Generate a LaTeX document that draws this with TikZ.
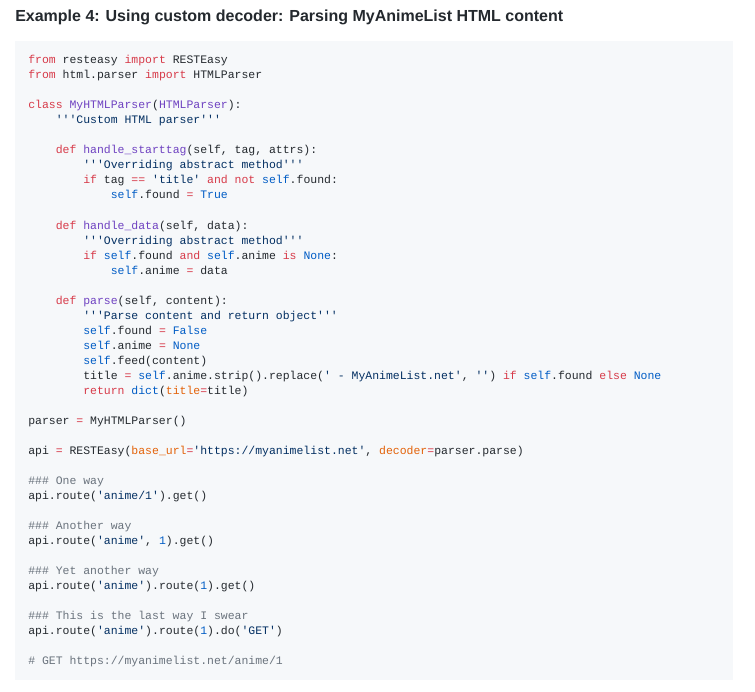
\documentclass[tikz,border=0pt]{standalone}
\usepackage{fontspec}
\setmainfont{Liberation Sans}
\newfontfamily\codefont{Liberation Mono}
\definecolor{ckc}{HTML}{D73A49}
\definecolor{cfc}{HTML}{6F42C1}
\definecolor{csc}{HTML}{032F62}
\definecolor{ccc}{HTML}{005CC5}
\definecolor{cmc}{HTML}{6A737D}
\definecolor{cpc}{HTML}{E36209}
\definecolor{txt}{HTML}{24292E}
\definecolor{bgc}{HTML}{F6F8FA}
\newcommand\ck[1]{\textcolor{ckc}{#1}}
\newcommand\cf[1]{\textcolor{cfc}{#1}}
\newcommand\cs[1]{\textcolor{csc}{#1}}
\newcommand\cc[1]{\textcolor{ccc}{#1}}
\newcommand\cm[1]{\textcolor{cmc}{#1}}
\newcommand\cp[1]{\textcolor{cpc}{#1}}
\begin{document}
\begin{tikzpicture}[x=0.75pt,y=-0.75pt,
  code/.style={anchor=base west,inner sep=0pt,font=\codefont\fontsize{8.6pt}{10pt}\selectfont,text=txt}]
\useasboundingbox (0,0) rectangle (755,691);
\fill[white] (0,0) rectangle (755,691);
\node[anchor=base west,inner sep=0pt,font=\bfseries\fontsize{12pt}{14pt}\selectfont,text=txt] (title) at (15,22) {Example 4: Using custom decoder: Parsing MyAnimeList HTML content};
\fill[bgc] (15,41) rectangle (733,680);
\def\ln#1#2#3{\node[code] (l#1) at ({28+#2*6.88},{64+#1*15}) {#3};}
\ln{0}{0}{\ck{from} resteasy \ck{import} RESTEasy}
\ln{1}{0}{\ck{from} html.parser \ck{import} HTMLParser}
\ln{3}{0}{\ck{class} \cf{MyHTMLParser}(\cf{HTMLParser}):}
\ln{4}{4}{\cs{'''Custom HTML parser'''}}
\ln{6}{4}{\ck{def} \cf{handle\_starttag}(self, tag, attrs):}
\ln{7}{8}{\cs{'''Overriding abstract method'''}}
\ln{8}{8}{\ck{if} tag \ck{==} \cs{'title'} \ck{and} \ck{not} \cc{self}.found:}
\ln{9}{12}{\cc{self}.found \ck{=} \cc{True}}
\ln{11}{4}{\ck{def} \cf{handle\_data}(self, data):}
\ln{12}{8}{\cs{'''Overriding abstract method'''}}
\ln{13}{8}{\ck{if} \cc{self}.found \ck{and} \cc{self}.anime \ck{is} \cc{None}:}
\ln{14}{12}{\cc{self}.anime \ck{=} data}
\ln{16}{4}{\ck{def} \cf{parse}(self, content):}
\ln{17}{8}{\cs{'''Parse content and return object'''}}
\ln{18}{8}{\cc{self}.found \ck{=} \cc{False}}
\ln{19}{8}{\cc{self}.anime \ck{=} \cc{None}}
\ln{20}{8}{\cc{self}.feed(content)}
\ln{21}{8}{title \ck{=} \cc{self}.anime.strip().replace(\cs{' - MyAnimeList.net'}, \cs{''}) \ck{if} \cc{self}.found \ck{else} \cc{None}}
\ln{22}{8}{\ck{return} \cc{dict}(\cp{title}\ck{=}title)}
\ln{24}{0}{parser \ck{=} MyHTMLParser()}
\ln{26}{0}{api \ck{=} RESTEasy(\cp{base\_url}\ck{=}\cs{'https://myanimelist.net'}, \cp{decoder}\ck{=}parser.parse)}
\ln{28}{0}{\cm{\#\#\# One way}}
\ln{29}{0}{api.route(\cs{'anime/1'}).get()}
\ln{31}{0}{\cm{\#\#\# Another way}}
\ln{32}{0}{api.route(\cs{'anime'}, \cc{1}).get()}
\ln{34}{0}{\cm{\#\#\# Yet another way}}
\ln{35}{0}{api.route(\cs{'anime'}).route(\cc{1}).get()}
\ln{37}{0}{\cm{\#\#\# This is the last way I swear}}
\ln{38}{0}{api.route(\cs{'anime'}).route(\cc{1}).do(\cs{'GET'})}
\ln{40}{0}{\cm{\# GET https://myanimelist.net/anime/1}}
\end{tikzpicture}
\end{document}
